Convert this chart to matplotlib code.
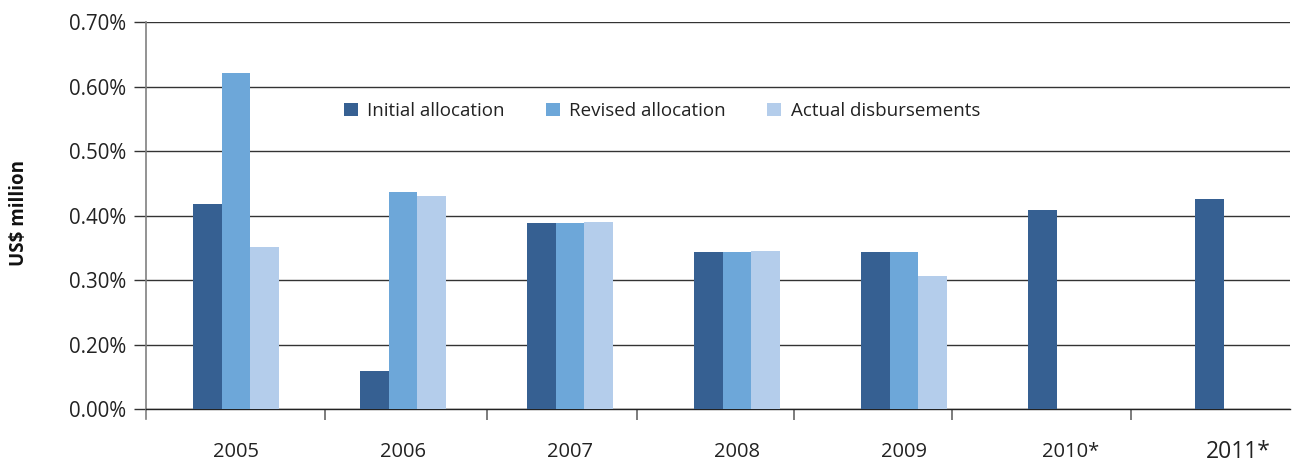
import matplotlib
matplotlib.use("Agg")
import matplotlib.pyplot as plt
import numpy as np

plt.rcParams['font.family'] = ['Open Sans', 'DejaVu Sans']

years = ["2005", "2006", "2007", "2008", "2009", "2010*", "2011*"]
initial = [0.418, 0.159, 0.388, 0.343, 0.343, 0.409, 0.426]
revised = [0.621, 0.436, 0.388, 0.343, 0.343, np.nan, np.nan]
actual = [0.351, 0.430, 0.390, 0.345, 0.306, np.nan, np.nan]
series_names = ["Initial allocation", "Revised allocation", "Actual disbursements"]
colors = ["#366092", "#6DA7D9", "#B4CDEB"]

ytick_vals = [0.1, 0.2, 0.3, 0.4, 0.5, 0.6, 0.7]
ytick_labels = ["0.00%", "0.20%", "0.30%", "0.40%", "0.50%", "0.60%", "0.70%"]
base = 0.1

fig = plt.figure(figsize=(12.97, 4.65), dpi=100)
ax = fig.add_axes([146/1297, 1-409/465, (1290-146)/1297, (409-22)/465])

x = np.arange(len(years))
w = 0.171
for k, (vals, name, c) in enumerate(zip([initial, revised, actual], series_names, colors)):
    v = np.array(vals, dtype=float)
    ax.bar(x + (k-1)*w, v - base, width=w, bottom=base, color=c, label=name, zorder=3, linewidth=0)

ax.set_ylim(0.1, 0.7)
ax.set_xlim(-0.539, 6.311)
ax.set_yticks(ytick_vals)
ax.set_yticklabels(ytick_labels, fontsize=14.8, color="#222222")
ax.yaxis.grid(True, color="#333333", linewidth=1.0, zorder=0)
ax.tick_params(axis='y', length=9, width=1, color="#333333", pad=5.5)

ax.set_xticks(x)
ax.set_xticklabels(years, fontsize=14.5, color="#222222", va="center")
for lbl in ax.get_xticklabels():
    if lbl.get_text() == "2011*":
        lbl.set_fontsize(16.5)
ax.tick_params(axis='x', length=0, pad=31)
ax.set_xticks([0.53, 1.50, 2.40, 3.34, 4.29, 5.36], minor=True)
ax.tick_params(axis='x', which='minor', length=8, width=1.2, color="#666666")

for s in ["top", "right"]:
    ax.spines[s].set_visible(False)
ax.spines["left"].set_color("#808080")
ax.spines["left"].set_linewidth(1.2)
ax.spines["left"].set_bounds(0.085, 0.7)
ax.spines["bottom"].set_color("#222222")
ax.spines["bottom"].set_linewidth(1.0)

ax.set_ylabel("US$ million", fontsize=13.5, fontweight="bold", color="#111111")
ax.yaxis.set_label_coords(-0.102, 0.506)

leg = ax.legend(loc="center", bbox_to_anchor=(0.451, 0.770), ncol=3, frameon=False,
                fontsize=13.5, handlelength=0.75, handleheight=0.75, columnspacing=2.2,
                handletextpad=0.5)
for t in leg.get_texts():
    t.set_color("#222222")

fig.savefig("out.png", dpi=100)
